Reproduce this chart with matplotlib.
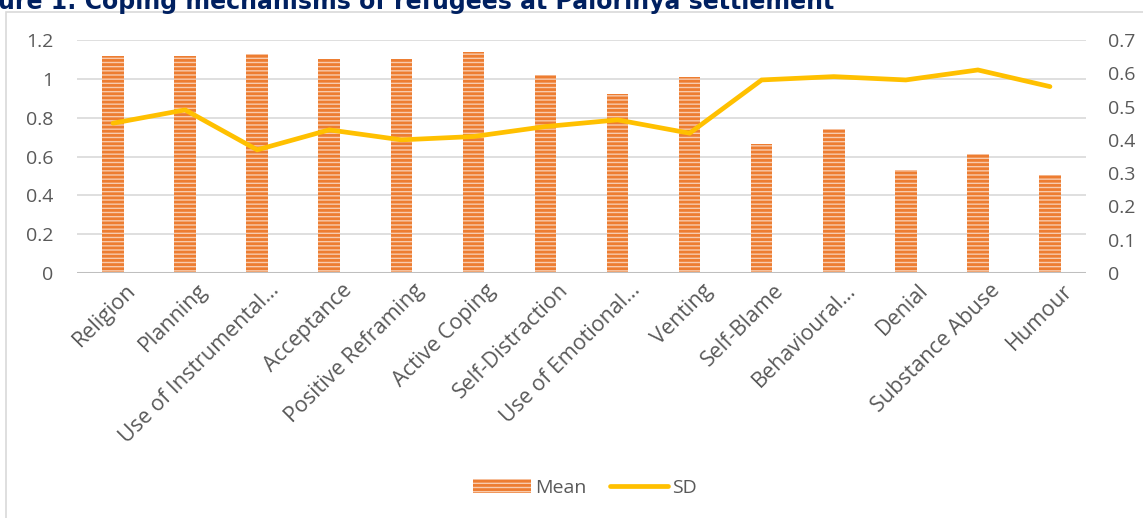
import matplotlib.pyplot as plt
import matplotlib.transforms as mtransforms
import numpy as np

categories = ["Religion", "Planning", "Use of Instrumental…", "Acceptance",
              "Positive Reframing", "Active Coping", "Self-Distraction",
              "Use of Emotional…", "Venting", "Self-Blame", "Behavioural…",
              "Denial", "Substance Abuse", "Humour"]
mean = [1.12, 1.12, 1.13, 1.10, 1.10, 1.14, 1.02, 0.92, 1.01, 0.665, 0.74,
        0.53, 0.615, 0.505]
sd = [0.45, 0.49, 0.37, 0.43, 0.40, 0.41, 0.44, 0.46, 0.42, 0.58, 0.59,
      0.58, 0.61, 0.56]

plt.rcParams['font.family'] = ['Open Sans', 'DejaVu Sans']
plt.rcParams['hatch.linewidth'] = 2.0

W, H = 1143, 518
fig = plt.figure(figsize=(W / 100, H / 100), dpi=100)
ax = fig.add_axes([77 / W, 1 - 273 / H, (1086 - 77) / W, (273 - 40) / H])
ax2 = ax.twinx()

x = np.arange(len(categories))
ax.bar(x, mean, width=0.3, facecolor='#F8CBAD', edgecolor='#ED7D31',
       linewidth=0, hatch='----', label='Mean', zorder=2)
ax2.plot(x, sd, color='#FFC000', lw=3.4, solid_capstyle='round',
         solid_joinstyle='miter', label='SD')

ax.set_xlim(-0.5, len(categories) - 0.5)
ax.set_ylim(0, 1.2)
ax.set_yticks(np.arange(0, 1.21, 0.2))
ax.set_yticklabels(['0', '0.2', '0.4', '0.6', '0.8', '1', '1.2'])
ax2.set_ylim(0, 0.7)
ax2.set_yticks(np.arange(0, 0.71, 0.1))
ax2.set_yticklabels(['0', '0.1', '0.2', '0.3', '0.4', '0.5', '0.6', '0.7'])

ax.grid(axis='y', color='#D9D9D9', lw=1.2, zorder=0)
ax.set_axisbelow(True)
for a in (ax, ax2):
    for s in a.spines.values():
        s.set_visible(False)
    a.tick_params(length=0, labelsize=14, labelcolor='#595959')
ax.axhline(0, color='#BFBFBF', lw=2.2, zorder=3)
ax.tick_params(axis='y', pad=17)
ax2.tick_params(axis='y', pad=16)

ax.set_xticks(x)
ax.set_xticklabels(categories, rotation=45, ha='right', rotation_mode='anchor')
ax.tick_params(axis='x', pad=5, labelsize=15.5)
shift = mtransforms.ScaledTranslation(12 / 100, 0, fig.dpi_scale_trans)
for lab in ax.get_xticklabels():
    lab.set_transform(lab.get_transform() + shift)

h1, l1 = ax.get_legend_handles_labels()
h2, l2 = ax2.get_legend_handles_labels()
fig.legend(h1 + h2, l1 + l2, loc='center', bbox_to_anchor=(585 / W, 1 - 488 / H),
           ncol=2, frameon=False, fontsize=14, labelcolor='#595959',
           handlelength=3.0, handletextpad=0.2, columnspacing=1.2)

# chart border
fig.add_artist(plt.Rectangle((6 / W, -0.01), 1.2, 1 - 12 / H + 0.01,
                             transform=fig.transFigure, fill=False,
                             edgecolor='#D9D9D9', lw=1.2))
fig.text(-2 / W, 1 - 9 / H, "ure 1: Coping mechanisms of refugees at Palorinya settlement",
         fontsize=17, fontweight='bold', color='#002060', family='DejaVu Sans',
         va='baseline', ha='left')

fig.savefig('out.png', dpi=100)
